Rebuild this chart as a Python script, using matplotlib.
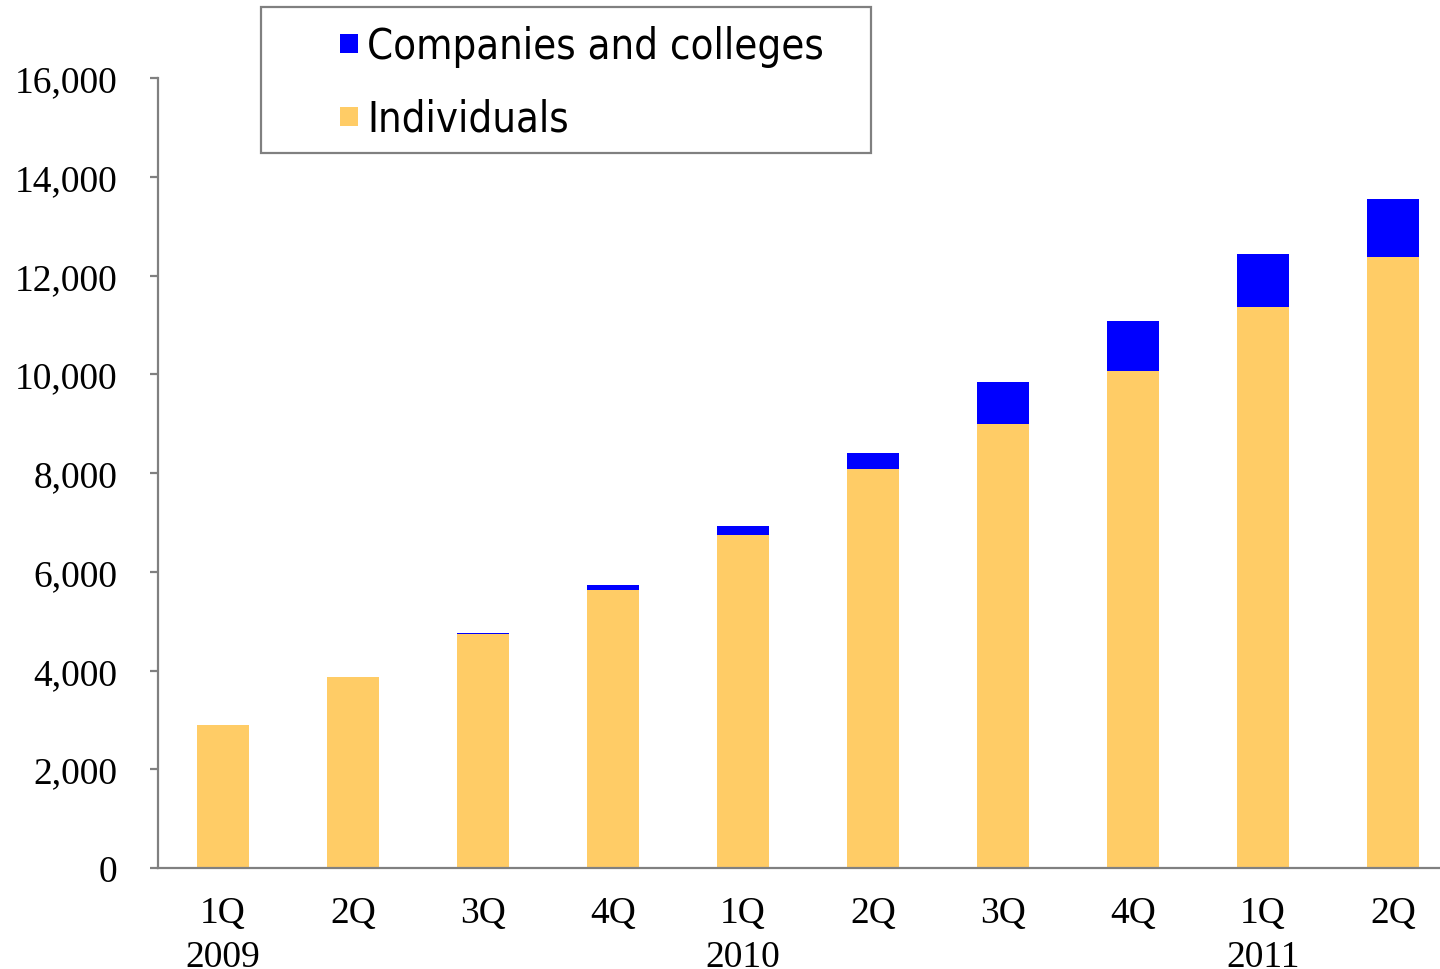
import matplotlib
matplotlib.use("Agg")
import matplotlib.pyplot as plt
from matplotlib.patches import Rectangle

# Quarterly member counts, stacked
quarters = ["1Q", "2Q", "3Q", "4Q", "1Q", "2Q", "3Q", "4Q", "1Q", "2Q"]
years = ["2009", "", "", "", "2010", "", "", "", "2011", ""]
individuals = [2890, 3860, 4730, 5630, 6740, 8080, 8990, 10070, 11360, 12370]
companies = [0, 10, 35, 100, 180, 320, 850, 1010, 1080, 1180]

blue = "#0000FF"
yellow = "#FFCC66"
axis_grey = "#808080"

fig = plt.figure(figsize=(14.4, 9.7), dpi=100)
ax = fig.add_axes([158 / 1440, 101 / 970, 1300 / 1440, 790 / 970])

x = list(range(len(quarters)))
ax.bar(x, individuals, width=0.4, color=yellow, label="Individuals", zorder=2)
ax.bar(x, companies, width=0.4, bottom=individuals, color=blue,
       label="Companies and colleges", zorder=2)

ax.set_xlim(-0.5, len(quarters) - 0.5)
ax.set_ylim(0, 16000)
ax.set_yticks(range(0, 16001, 2000))
ax.set_yticklabels([f"{v:,}" for v in range(0, 16001, 2000)],
                   family="Liberation Serif", fontsize=27)
ax.set_xticks(x)
ax.set_xticklabels([q + "\n" + y if y else q for q, y in zip(quarters, years)],
                   family="Liberation Serif", fontsize=27, linespacing=1.35,
                   va="top")

for side in ("top", "right"):
    ax.spines[side].set_visible(False)
for side in ("left", "bottom"):
    ax.spines[side].set_color(axis_grey)
    ax.spines[side].set_linewidth(1.6)
ax.tick_params(axis="y", direction="out", length=6, width=1.6,
               color=axis_grey, pad=23)
ax.tick_params(axis="x", length=0, pad=20)

# Legend box drawn by hand in figure pixels
W, H = 1440, 970
fig.patches.append(Rectangle((261 / W, 1 - 154 / H), 610 / W, 146 / H,
                             transform=fig.transFigure, facecolor="white",
                             edgecolor=axis_grey, linewidth=1.6, zorder=5))
legend_rows = [("Companies and colleges", blue, 45),
               ("Individuals", yellow, 118)]
for text, color, yc in legend_rows:
    fig.patches.append(Rectangle((340 / W, 1 - (yc + 9) / H), 18 / W, 19 / H,
                                 transform=fig.transFigure, facecolor=color,
                                 edgecolor="none", zorder=6))
    fig.text(367 / W, 1 - (yc + 2) / H, text, family="DejaVu Sans",
             fontstretch="condensed", fontweight="medium", fontsize=30,
             va="center", ha="left", zorder=7)

fig.savefig("out.png", dpi=100)
